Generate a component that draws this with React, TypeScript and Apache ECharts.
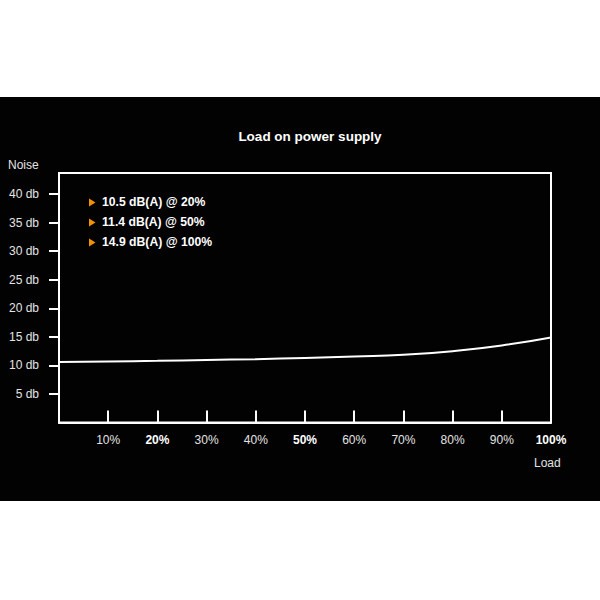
import React, { useEffect, useRef } from 'react'
import * as echarts from 'echarts'

const loads = [0, 10, 20, 30, 40, 50, 60, 70, 80, 90, 100]
const noise = [10.6, 10.7, 10.8, 10.95, 11.1, 11.3, 11.55, 11.85, 12.5, 13.5, 14.9]

const xTicks = [10, 20, 30, 40, 50, 60, 70, 80, 90, 100]
const boldLoads = [20, 50, 100]
const yTicks = [5, 10, 15, 20, 25, 30, 35, 40]

const notes = ['10.5 dB(A) @ 20%', '11.4 dB(A) @ 50%', '14.9 dB(A) @ 100%']

const FONT = '"Liberation Sans", Arial, Helvetica, sans-serif'
const LABEL = '#e4e4e4'

const App: React.FC = () => {
  const chartRef = useRef<HTMLDivElement>(null)

  useEffect(() => {
    if (!chartRef.current) return
    const chart = echarts.init(chartRef.current, undefined, { renderer: 'svg' })

    const option: echarts.EChartsOption = {
      animation: false,
      backgroundColor: 'transparent',
      textStyle: { fontFamily: FONT },
      title: {
        text: 'Load on power supply',
        left: 305,
        top: 124.5,
        textAlign: 'center',
        textStyle: {
          color: '#ffffff',
          fontSize: 13.5,
          fontWeight: 'bold',
          fontFamily: FONT,
        },
      },
      grid: {
        left: 59,
        right: 49,
        top: 173,
        bottom: 177.5,
        show: true,
        borderColor: '#ffffff',
        borderWidth: 2,
        backgroundColor: 'transparent',
      },
      xAxis: {
        type: 'value',
        min: 0,
        max: 100,
        splitLine: { show: false },
        axisLine: { show: true, lineStyle: { color: '#ffffff', width: 2 } },
        axisTick: {
          show: true,
          inside: true,
          length: 12,
          customValues: xTicks,
          lineStyle: { color: '#ffffff', width: 2 },
        },
        axisLabel: {
          customValues: xTicks,
          margin: 11,
          color: LABEL,
          fontSize: 12,
          fontFamily: FONT,
          formatter: (v: number) =>
            boldLoads.includes(v) ? `{b|${v}%}` : `${v}%`,
          rich: {
            b: {
              color: '#ffffff',
              fontWeight: 'bold',
              fontSize: 12,
              fontFamily: FONT,
            },
          },
        },
      },
      yAxis: {
        type: 'value',
        min: 0,
        max: 43.7,
        splitLine: { show: false },
        axisLine: { show: true, lineStyle: { color: '#ffffff', width: 2 } },
        axisTick: {
          show: true,
          inside: false,
          length: 10,
          customValues: yTicks,
          lineStyle: { color: '#ffffff', width: 2 },
        },
        axisLabel: {
          customValues: yTicks,
          margin: 20,
          color: LABEL,
          fontSize: 12,
          fontFamily: FONT,
          formatter: (v: number) => `${v} db`,
        },
      },
      graphic: [
        {
          type: 'text',
          left: 8,
          top: 159,
          style: { text: 'Noise', fill: LABEL, font: `12px ${FONT}` },
        },
        {
          type: 'text',
          left: 534,
          top: 457,
          style: { text: 'Load', fill: LABEL, font: `12px ${FONT}` },
        },
        ...notes.map((t, i) => ({
          type: 'group' as const,
          left: 89,
          top: 196 + i * 20,
          children: [
            {
              type: 'polygon' as const,
              shape: { points: [[0, 2.5], [6.5, 6.5], [0, 10.5]] },
              style: { fill: '#f39200' },
            },
            {
              type: 'text' as const,
              x: 13,
              y: 0,
              style: {
                text: t,
                fill: '#ffffff',
                font: `bold 12.2px ${FONT}`,
              },
            },
          ],
        })),
      ],
      series: [
        {
          type: 'line',
          smooth: true,
          showSymbol: false,
          data: loads.map((l, i) => [l, noise[i]]),
          lineStyle: { color: '#ffffff', width: 2 },
        },
      ],
    }

    chart.setOption(option)
    return () => {
      chart.dispose()
    }
  }, [])

  return (
    <div
      style={{
        position: 'fixed',
        left: 0,
        top: 0,
        width: 600,
        height: 600,
        background: '#ffffff',
      }}
    >
      <div
        style={{
          position: 'absolute',
          left: 0,
          top: 97,
          width: 600,
          height: 404,
          background: '#020202',
        }}
      />
      <div
        ref={chartRef}
        style={{ position: 'absolute', left: 0, top: 0, width: 600, height: 600 }}
      />
    </div>
  )
}

export default App
